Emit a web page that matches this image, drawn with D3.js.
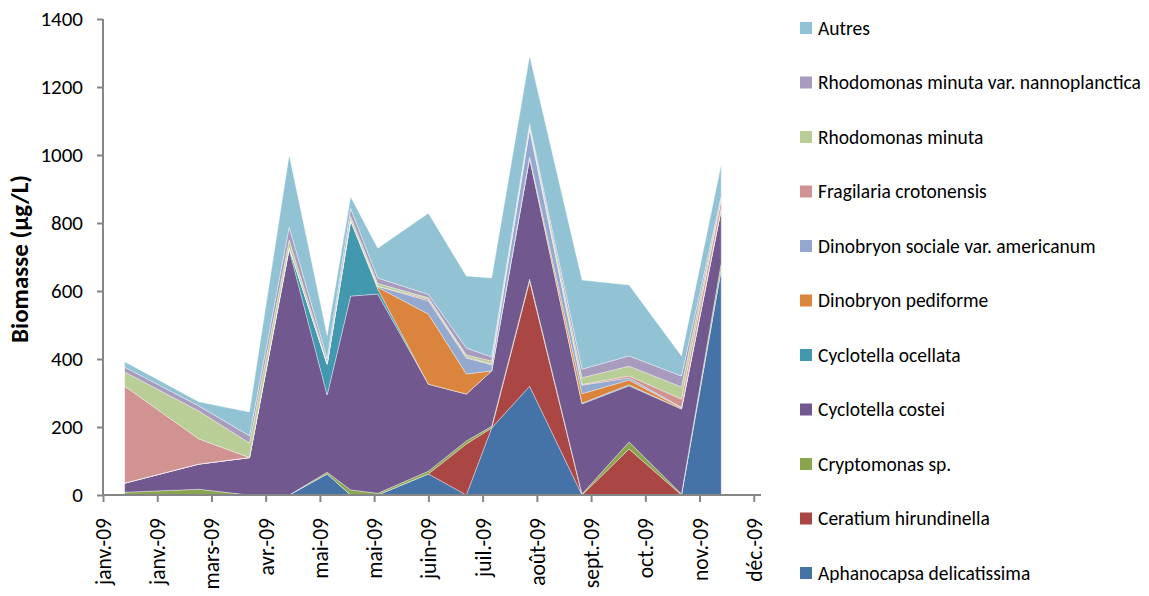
<!DOCTYPE html>
<html>
<head>
<meta charset="utf-8">
<script src="https://cdn.jsdelivr.net/npm/d3@7"></script>
<style>
  body { margin: 0; background: #fff; }
  svg text { font-family: Carlito, Lato, sans-serif; fill: #000; }
</style>
</head>
<body>
<div id="chart"></div>
<script>
// sample dates (2009)
var sampleDates = ["2009-01-13","2009-02-23","2009-03-23","2009-04-14","2009-05-05","2009-05-18","2009-06-02",
                   "2009-06-30","2009-07-21","2009-08-04","2009-08-25","2009-09-23","2009-10-19","2009-11-17","2009-12-09"];

// biomass per taxon (µg/L), bottom of the stack first
var aphanocapsa = [0, 0, 0, 0, 62, 0, 0, 62, 0, 197, 320, 0, 0, 0, 665];
var ceratium    = [0, 0, 0, 0, 0, 0, 0, 0, 150, 0, 309, 0, 135, 0, 0];
var cryptomonas = [8, 17, 0, 0, 5, 15, 5, 8, 9, 5, 6, 3, 21, 3, 17];
var costei      = [27, 74, 110, 722, 227, 570, 586, 256, 138, 163, 356, 265, 165, 250, 159];
var ocellata    = [0, 0, 0, 6, 91, 221, 15, 0, 0, 0, 0, 2, 3, 0, 0];
var pediforme   = [0, 0, 0, 0, 0, 3, 5, 206, 59, 0, 3, 28, 14, 3, 0];
var sociale     = [0, 0, 0, 0, 0, 0, 3, 39, 47, 18, 82, 25, 6, 2, 3];
var fragilaria  = [285, 74, 0, 0, 0, 0, 0, 5, 3, 2, 4, 2, 6, 24, 25];
var rhodoMinuta = [42, 82, 43, 22, 4, 10, 8, 4, 6, 9, 5, 20, 29, 36, 4];
var rhodoNanno  = [14, 15, 21, 38, 12, 24, 16, 10, 20, 12, 6, 25, 30, 32, 6];
var autres      = [16, 12, 70, 212, 68, 34, 88, 239, 212, 232, 200, 262, 209, 59, 94];

var seriesNames = ["Aphanocapsa delicatissima", "Ceratium hirundinella", "Cryptomonas sp.", "Cyclotella costei",
                   "Cyclotella ocellata", "Dinobryon pediforme", "Dinobryon sociale var. americanum",
                   "Fragilaria crotonensis", "Rhodomonas minuta", "Rhodomonas minuta var. nannoplanctica", "Autres"];
var seriesValues = [aphanocapsa, ceratium, cryptomonas, costei, ocellata, pediforme, sociale,
                    fragilaria, rhodoMinuta, rhodoNanno, autres];
var seriesColors = ["#4572A7", "#AA4643", "#89A54E", "#71588F", "#4198AF", "#DB843D", "#93A9CF",
                    "#D19392", "#B9CD96", "#A99BBD", "#92C3D5"];

var yTicks = [0, 200, 400, 600, 800, 1000, 1200, 1400];
// Excel date axis: a tick every 30 days from 1 Jan 2009
var xTickLabels = ["janv.-09", "janv.-09", "mars-09", "avr.-09", "mai-09", "mai-09", "juin-09",
                   "juil.-09", "août-09", "sept.-09", "oct.-09", "nov.-09", "déc.-09"];

var W = 1149, H = 596;
var plotLeft = 103, plotRight = 761, plotTop = 19, plotBottom = 495;

var parse = d3.timeParse("%Y-%m-%d");
var start = parse("2009-01-01"), end = parse("2009-12-31");
var xTickDates = xTickLabels.map(function(d, i) { return d3.timeDay.offset(start, i * 30); });

var rows = sampleDates.map(function(d, i) {
  var r = { date: parse(d) };
  seriesNames.forEach(function(name, j) { r[name] = seriesValues[j][i]; });
  return r;
});

var x = d3.scaleTime().domain([start, end]).range([plotLeft, plotRight]);
var y = d3.scaleLinear().domain([0, 1400]).range([plotBottom, plotTop]);

var stack = d3.stack().keys(seriesNames);
var layers = stack(rows);

var area = d3.area()
  .x(function(d) { return x(d.data.date); })
  .y0(function(d) { return y(d[0]); })
  .y1(function(d) { return y(d[1]); });

var svg = d3.select("#chart").append("svg")
  .attr("width", W)
  .attr("height", H);

svg.selectAll("path.layer")
  .data(layers)
  .enter()
  .append("path")
    .attr("class", "layer")
    .attr("d", area)
    .style("fill", function(d, i) { return seriesColors[i]; })
    .style("stroke", "#fff")
    .style("stroke-width", 0.6)
    .style("stroke-opacity", 0.6)
    .style("stroke-linejoin", "round");

// y axis
var yAxis = svg.append("g")
  .attr("transform", "translate(" + plotLeft + ",0)")
  .call(d3.axisLeft(y).tickValues(yTicks).tickSize(6).tickPadding(14).tickFormat(d3.format("d")));
yAxis.selectAll("path, line").style("stroke", "#868686").style("stroke-width", 2);
yAxis.select(".domain").attr("d", "M0," + plotBottom + "V" + plotTop);
yAxis.selectAll("text").style("font-size", "21px").style("fill", "#000");

// x axis
var xAxis = svg.append("g")
  .attr("transform", "translate(0," + plotBottom + ")")
  .call(d3.axisBottom(x).tickValues(xTickDates).tickSize(7)
        .tickFormat(function(d, i) { return xTickLabels[i]; }));
xAxis.selectAll("path, line").style("stroke", "#868686").style("stroke-width", 2);
xAxis.select(".domain").attr("d", "M" + plotLeft + ",0H" + plotRight);
xAxis.selectAll("text")
  .style("font-size", "21.5px")
  .style("fill", "#000")
  .attr("text-anchor", "end")
  .attr("transform", "rotate(-90)")
  .attr("x", -23)
  .attr("y", 0)
  .attr("dy", "0.35em");

// axis title
svg.append("text")
  .attr("transform", "translate(28,259) rotate(-90)")
  .attr("text-anchor", "middle")
  .style("font-size", "25px")
  .style("font-weight", "bold")
  .text("Biomasse (µg/L)");

// legend, top of the stack first
var legend = svg.append("g").attr("transform", "translate(800,28)");
var legendItems = seriesNames.slice().reverse();
var item = legend.selectAll("g")
  .data(legendItems)
  .enter()
  .append("g")
    .attr("transform", function(d, i) { return "translate(0," + (i * 54.5) + ")"; });
item.append("rect")
  .attr("x", 0).attr("y", -6)
  .attr("width", 12).attr("height", 12)
  .style("fill", function(d) { return seriesColors[seriesNames.indexOf(d)]; });
item.append("text")
  .attr("x", 18).attr("dy", "0.35em")
  .style("font-size", "19.5px")
  .text(function(d) { return d; });
</script>
</body>
</html>
